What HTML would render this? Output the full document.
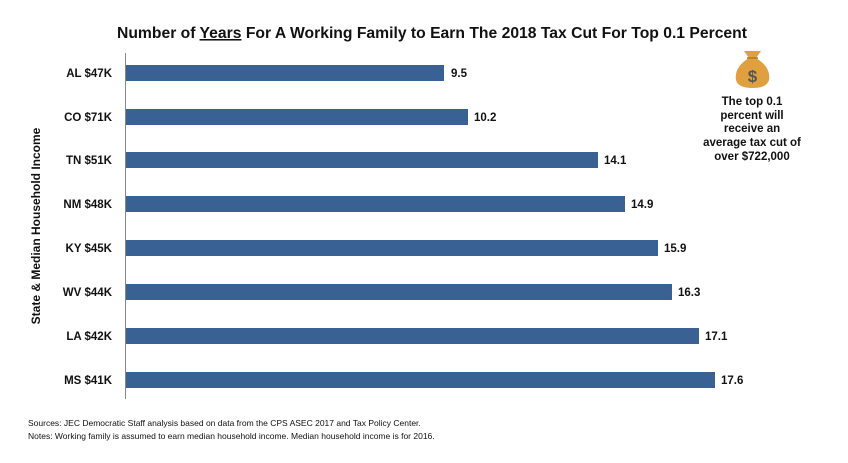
<!DOCTYPE html>
<html><head><meta charset="utf-8"><style>
body{margin:0;background:#fff;width:848px;height:458px;overflow:hidden;font-family:"Liberation Sans",sans-serif;}
</style></head><body>
<svg width="848" height="458" xmlns="http://www.w3.org/2000/svg" font-family="Liberation Sans, sans-serif">
<text x="432" y="38" text-anchor="middle" font-size="15.5" font-weight="bold" fill="#111" textLength="630" lengthAdjust="spacingAndGlyphs">Number of <tspan text-decoration="underline">Years</tspan> For A Working Family to Earn The 2018 Tax Cut For Top 0.1 Percent</text>
<line x1="125.5" y1="53" x2="125.5" y2="399" stroke="#888" stroke-width="1"/>
<g fill="#3A6194">
<rect x="126" y="65" width="318" height="16"/>
<rect x="126" y="109" width="342" height="16"/>
<rect x="126" y="152" width="472" height="16"/>
<rect x="126" y="196" width="499" height="16"/>
<rect x="126" y="240" width="532" height="16"/>
<rect x="126" y="284" width="546" height="16"/>
<rect x="126" y="328" width="573" height="16"/>
<rect x="126" y="372" width="589" height="16"/>
</g>
<g font-size="11.5" font-weight="bold" fill="#111" text-anchor="end">
<text x="112" y="77">AL $47K</text>
<text x="112" y="121">CO $71K</text>
<text x="112" y="164">TN $51K</text>
<text x="112" y="208">NM $48K</text>
<text x="112" y="252">KY $45K</text>
<text x="112" y="296">WV $44K</text>
<text x="112" y="340">LA $42K</text>
<text x="112" y="384">MS $41K</text>
</g>
<g font-size="11.5" font-weight="bold" fill="#111">
<text x="451" y="77">9.5</text>
<text x="474" y="121">10.2</text>
<text x="604" y="164">14.1</text>
<text x="631" y="208">14.9</text>
<text x="664" y="252">15.9</text>
<text x="678" y="296">16.3</text>
<text x="705" y="340">17.1</text>
<text x="721" y="384">17.6</text>
</g>
<text transform="translate(40,226) rotate(-90)" text-anchor="middle" font-size="12" font-weight="bold" fill="#111">State &amp; Median Household Income</text>
<g>
<path d="M744 51 L761 51 L756 58 Q771 67 769 80 Q767 88 752.5 88 Q738 88 736 80 Q734 67 749 58 Z" fill="#E0A040"/>
<line x1="747" y1="58" x2="758" y2="58" stroke="#B07820" stroke-width="1.5"/>
<text x="752.5" y="82" text-anchor="middle" font-size="17" font-weight="bold" fill="#555">$</text>
</g>
<g font-size="11.5" font-weight="bold" fill="#111" text-anchor="middle">
<text x="752" y="105">The top 0.1</text>
<text x="752" y="119">percent will</text>
<text x="752" y="132">receive an</text>
<text x="752" y="146">average tax cut of</text>
<text x="752" y="160">over $722,000</text>
</g>
<text x="28" y="426" font-size="8.5" fill="#111">Sources: JEC Democratic Staff analysis based on data from the CPS ASEC 2017 and Tax Policy Center.</text>
<text x="28" y="439" font-size="8.5" fill="#111">Notes: Working family is assumed to earn median household income. Median household income is for 2016.</text>
</svg>
</body></html>
